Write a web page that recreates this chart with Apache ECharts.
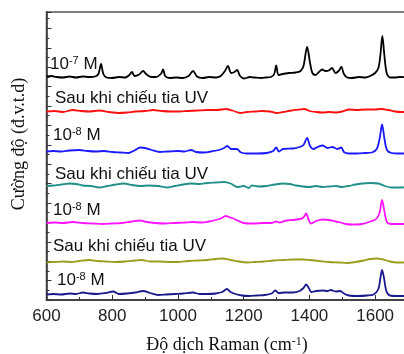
<!DOCTYPE html>
<html>
<head>
<meta charset="utf-8">
<script src="https://cdn.jsdelivr.net/npm/echarts@6/dist/echarts.min.js"></script>
<style>
  html, body { margin: 0; padding: 0; background: #fff; }
  #chart { width: 404px; height: 354px; }
</style>
</head>
<body>
<div id="chart"></div>
<script>
// Raman shift axis ticks (cm-1)
const xTicks = [600, 800, 1000, 1200, 1400, 1600];

// Stacked SERS spectra, [Raman shift, offset intensity] (arbitrary units)
const spec7M = [
  [600,223.5],[615,224],[630,223],[650,222.5],[670,223.5],[690,222.5],[710,223.5],[730,223],
  [748,223.5],[758,226],[766,236],[773,226],[783,222.5],[800,222],[820,223],[840,222.5],
  [852,225],[860,228],[868,224],[882,225.5],[894,229],[903,226],[918,223],[933,223],
  [948,226],[955,230.5],[961,224],[975,222],[995,222.5],[1015,222],[1032,224],[1046,229],
  [1058,223.5],[1075,222],[1095,223],[1115,222.5],[1130,224],[1143,229],[1152,234],[1162,227],
  [1172,228],[1180,230],[1189,224],[1202,221.5],[1218,223],[1233,222.5],[1253,222],[1268,222.5],
  [1283,223],[1293,226],[1299,234.5],[1306,225],[1318,226],[1338,227],[1358,227.5],[1373,229],
  [1382,234],[1393,253],[1402,237],[1409,227],[1419,225],[1429,228],[1439,230.5],[1449,229],
  [1459,229.5],[1469,232],[1479,227],[1489,229],[1497,233],[1505,226],[1515,222.5],[1530,222],
  [1550,223],[1570,222.5],[1585,224],[1600,227],[1610,232],[1616,245],[1622,264],[1628,245],
  [1635,227],[1645,222.5],[1660,222.5],[1675,223],[1700,222.5]
];
const uvA = [
  [600,188.5],[625,189],[650,188],[680,190],[705,189],[730,188.5],[760,189.5],[790,188],
  [820,187],[845,187.5],[870,188.5],[900,189],[925,190],[950,189],[980,188.5],[1005,188.5],
  [1030,189],[1060,189.5],[1090,190],[1120,190],[1145,191],[1165,189.5],[1190,187],[1210,188],
  [1235,188.5],[1255,189],[1280,188.5],[1300,187],[1320,188],[1345,189.5],[1370,190.5],[1385,191],
  [1400,189],[1420,188],[1440,187.5],[1460,188],[1480,187.5],[1500,188.5],[1520,190.5],[1545,190],
  [1570,190.5],[1595,190.5],[1620,191],[1640,190],[1660,188.5],[1680,188],[1700,188]
];
const spec8MA = [
  [600,148.5],[620,149],[645,148.5],[670,149.5],[700,150],[725,149],[750,148.5],[775,149],
  [800,148],[825,147.5],[850,147],[870,150],[885,152.5],[900,152],[920,150],[945,148],
  [970,148.5],[1000,149],[1020,148.5],[1040,150],[1055,148],[1080,147.5],[1100,148.5],[1125,150],
  [1140,152],[1150,154],[1162,151],[1179,151],[1192,147.5],[1210,146.5],[1240,146.5],[1270,147],
  [1290,149],[1299,152.5],[1307,148.5],[1320,151],[1350,151.5],[1370,153],[1382,155],[1393,162],
  [1402,154],[1412,151],[1425,153],[1440,154.5],[1455,152],[1470,153],[1485,151],[1497,152.5],
  [1505,148],[1520,146.5],[1545,146.5],[1570,147],[1590,147.5],[1605,151],[1614,162],[1621,175.5],
  [1628,162],[1636,150],[1650,147],[1670,146.5],[1700,146.5]
];
const uvB = [
  [600,114],[620,114.5],[645,115.5],[670,116.5],[690,116],[710,114.5],[735,114],[760,112.5],
  [785,114],[810,115.5],[835,116.5],[860,115],[885,114],[910,114.5],[940,114],[965,112.5],
  [990,114],[1015,115.5],[1040,116.5],[1065,116],[1090,117],[1115,117.5],[1140,118],[1160,116.5],
  [1180,113],[1200,114],[1215,112],[1225,114.5],[1245,113.5],[1270,114],[1295,115.5],[1320,116.5],
  [1340,116],[1360,114.5],[1380,113.5],[1400,113],[1420,114],[1440,113],[1460,113.5],[1480,114],
  [1500,113],[1520,114],[1540,115.5],[1560,116.5],[1585,117],[1610,116.5],[1630,114],[1650,112.5],
  [1675,112.5],[1700,113]
];
const spec8MB = [
  [600,77],[625,77.5],[650,77],[680,78],[710,77],[740,76.5],[770,76],[800,76.5],
  [830,77],[860,78.5],[885,79.5],[905,78],[930,77],[960,76.5],[990,77],[1020,77.5],
  [1045,78],[1070,77.5],[1095,78.5],[1115,80],[1130,81.5],[1145,84],[1155,83],[1165,82],
  [1175,80.5],[1185,79],[1200,77],[1230,76.5],[1260,77],[1285,77],[1299,78.5],[1310,77.5],
  [1330,79.5],[1350,80],[1370,81],[1382,82.5],[1390,86.5],[1398,80],[1405,76.5],[1420,79],
  [1440,80.5],[1460,80],[1480,78.5],[1495,77.5],[1510,76],[1530,75.5],[1560,76],[1590,79],
  [1605,81.5],[1614,88],[1621,100],[1628,89],[1636,78],[1650,76],[1675,76],[1700,76]
];
const uvC = [
  [600,37.5],[625,38],[650,38.5],[675,38],[700,39],[730,40],[755,39],[780,38.5],
  [810,38],[840,38.5],[870,39.5],[890,40],[915,38.5],[945,38.5],[975,38],[1000,38],
  [1030,39],[1060,39.5],[1090,40],[1115,41],[1135,41.5],[1160,40],[1185,38.5],[1210,37.5],
  [1235,38],[1260,38.5],[1290,39.5],[1320,40],[1350,40.5],[1380,40.5],[1400,40],[1430,39],
  [1460,38],[1490,37.5],[1515,37],[1540,38],[1565,39.5],[1585,41],[1605,41.5],[1625,40.5],
  [1645,38.5],[1665,37.5],[1700,37.5]
];
const spec8MC = [
  [600,5.5],[620,6],[645,5.5],[670,6.5],[690,6],[711,7.5],[730,6.5],[755,6],
  [780,7],[803,8.5],[820,6],[845,6.5],[870,7.5],[894,9],[915,7],[940,5],
  [965,5.5],[990,6],[1015,6.5],[1046,7.5],[1065,6],[1090,6],[1115,6.5],[1135,8],
  [1149,11],[1160,8],[1175,6],[1195,4.5],[1215,4],[1240,4.5],[1265,5],[1285,6.5],
  [1296,9.5],[1306,7],[1325,7.5],[1350,7.5],[1370,9],[1382,12],[1390,15.5],[1398,12],
  [1406,8],[1420,9],[1440,9.5],[1455,9],[1465,10],[1480,8.5],[1494,9],[1505,6.5],
  [1520,4.5],[1550,4],[1575,4.5],[1595,5.5],[1610,11],[1616,22],[1621,30],[1627,22],
  [1634,9],[1645,4.5],[1670,4],[1700,4]
];

// Trace labels: [base text, exponent or '', trailing text]
const traceLabels = [
  ['10', '-7', ' M'],
  ['Sau khi chiếu tia UV', '', ''],
  ['10', '-8', ' M'],
  ['Sau khi chiếu tia UV', '', ''],
  ['10', '-8', ' M'],
  ['Sau khi chiếu tia UV', '', ''],
  ['10', '-8', ' M']
];
const xTitle = ['Độ dịch Raman (cm', '-1', ')'];
const yTitle = 'Cường độ (đ.v.t.d)';

const traces = [
  { data: spec7M,  color: '#000000' },
  { data: uvA,     color: '#ff1010' },
  { data: spec8MA, color: '#1a1aff' },
  { data: uvB,     color: '#1f8f88' },
  { data: spec8MB, color: '#ff14ff' },
  { data: uvC,     color: '#9c9c1c' },
  { data: spec8MC, color: '#1a1a8c' }
];

const labelPos = [[50, 64], [55, 98.5], [53, 135.5], [55, 174.5], [53, 210], [53, 246.5], [57, 280.5]];

const sans = 'Liberation Sans, Arial, sans-serif';
const serif = 'Liberation Serif, Times New Roman, serif';

function richText(parts) {
  return '{b|' + parts[0] + '}' + (parts[1] ? '{s|' + parts[1] + '}' : '') + (parts[2] ? '{b|' + parts[2] + '}' : '');
}

const chart = echarts.init(document.getElementById('chart'), null, { renderer: 'canvas' });

const graphics = traceLabels.map((p, i) => ({
  type: 'text',
  x: labelPos[i][0],
  y: labelPos[i][1],
  silent: true,
  style: {
    text: richText(p),
    align: 'left',
    verticalAlign: 'middle',
    fill: '#111',
    rich: {
      b: { fontFamily: sans, fontSize: 17, lineHeight: 18, fill: '#111' },
      s: { fontFamily: sans, fontSize: 11, lineHeight: 18, verticalAlign: 'top', fill: '#111' }
    }
  }
}));

graphics.push({
  type: 'text',
  x: 227, y: 345,
  silent: true,
  style: {
    text: richText(xTitle),
    align: 'center', verticalAlign: 'middle',
    rich: {
      b: { fontFamily: serif, fontSize: 18, lineHeight: 19, fill: '#111' },
      s: { fontFamily: serif, fontSize: 12, lineHeight: 19, verticalAlign: 'top', fill: '#111' }
    }
  }
});
graphics.push({
  type: 'text',
  x: 19, y: 144,
  rotation: Math.PI / 2,
  silent: true,
  style: {
    text: yTitle,
    align: 'center', verticalAlign: 'middle',
    fontFamily: serif, fontSize: 18, fill: '#111'
  }
});

chart.setOption({
  animation: false,
  backgroundColor: '#ffffff',
  grid: {
    left: 46.5, right: -4, top: 12, bottom: 54,
    outerBoundsMode: 'none',
    containLabel: false,
    show: true, borderColor: '#555', borderWidth: 1.5, backgroundColor: 'transparent'
  },
  xAxis: {
    type: 'value',
    min: 600, max: 1700, interval: 200,
    axisLine: { show: true, lineStyle: { color: '#333', width: 1.5 } },
    axisTick: { show: true, inside: true, length: 5, lineStyle: { color: '#333', width: 1 } },
    minorTick: { show: true, splitNumber: 2, length: 3, lineStyle: { color: '#333', width: 1 } },
    splitLine: { show: false },
    axisLabel: {
      margin: 8,
      fontFamily: sans, fontSize: 17, color: '#222',
      formatter: v => (xTicks.indexOf(v) >= 0 ? String(v) : '')
    }
  },
  yAxis: {
    type: 'value',
    min: 0, max: 288, interval: 19.4,
    axisLine: { show: true, lineStyle: { color: '#333', width: 1.5 } },
    axisTick: { show: true, inside: true, length: 5, lineStyle: { color: '#333', width: 1 } },
    minorTick: { show: true, splitNumber: 2, length: 3, lineStyle: { color: '#333', width: 1 } },
    splitLine: { show: false },
    axisLabel: { show: false }
  },
  series: traces.map(t => ({
    type: 'line',
    data: t.data,
    showSymbol: false,
    smooth: 0.3,
    clip: true,
    lineStyle: { color: t.color, width: 1.8 },
    emphasis: { disabled: true }
  })),
  graphic: graphics
});
</script>
</body>
</html>
